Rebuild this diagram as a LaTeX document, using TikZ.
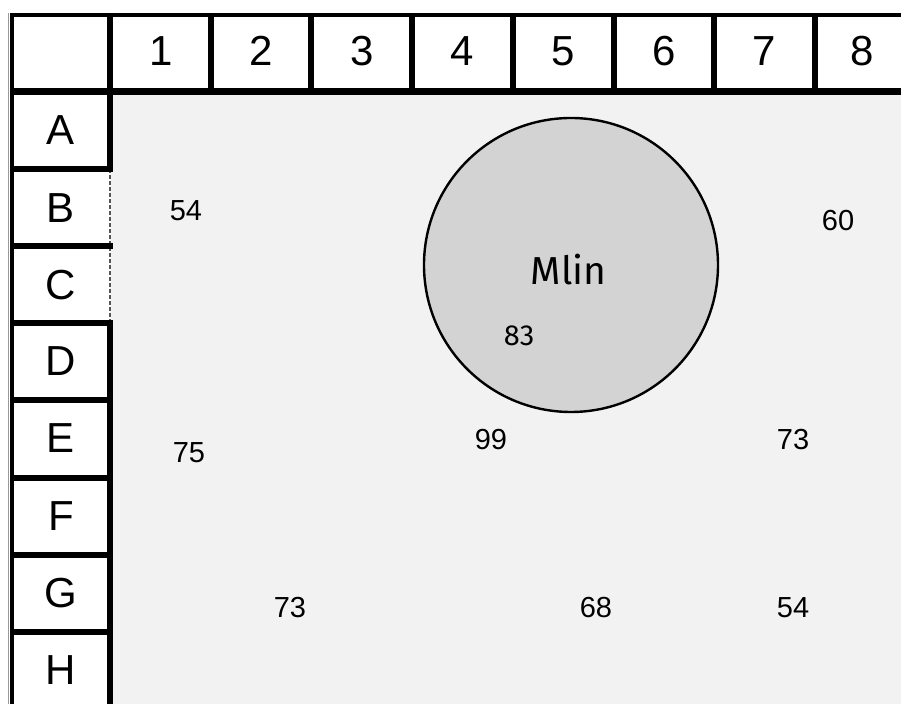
\documentclass[tikz,border=0pt]{standalone}
\usepackage{fontspec}
\setmainfont{Liberation Sans}
\newfontfamily\fira{Fira Sans}
\definecolor{bggray}{HTML}{F2F2F2}
\definecolor{circgray}{HTML}{D3D3D3}
\definecolor{edgegray}{HTML}{9A9A9A}
\definecolor{dashgray}{HTML}{555555}
\begin{document}
\begin{tikzpicture}[x=0.5pt,y=-0.5pt,
  lbl/.style={font=\fontsize{21}{21}\selectfont, inner sep=0pt},
  num/.style={font=\fontsize{14.5}{14.5}\selectfont, inner sep=0pt},
  heavy/.style={line width=3pt, black},
  ballshape/.style={circle, draw=black, fill=circgray, line width=1.2pt, minimum size=147pt, inner sep=0pt}]
\useasboundingbox (0,0) rectangle (901,704);
\fill[white] (0,0) rectangle (901,704);
\fill[bggray] (111,92) rectangle (901,704);
% thin outer gray line at left
\draw[edgegray, line width=0.5pt] (8.5,13) -- (8.5,704);
% top border
\draw[line width=2pt] (10,15) -- (901,15);
% left border
\draw[line width=2pt] (12,13) -- (12,704);
% header column separators
\foreach \x in {210.7,311.4,412.1,512.9,613.6,714.3,815} {
  \draw[heavy] (\x,15) -- (\x,91.5);
}
% right edge of label column
\draw[heavy] (110,13) -- (110,168.7);
\draw[heavy] (110,323.1) -- (110,704);
\draw[dashgray, line width=0.6pt, dash pattern=on 2pt off 1pt] (110,168.7) -- (110,323.1);
% header bottom
\draw[line width=3.5pt] (10,91.5) -- (901,91.5);
% row separators in label column
\foreach \y in {168.7,245.9,323.1,400.4,477.6,554.8,632} {
  \draw[heavy] (10,\y) -- (113,\y);
}
% column labels
\foreach \i/\x in {1/161,2/261.5,3/362,4/462.5,5/563,6/664,7/764.5,8/862} {
  \node[lbl] (col\i) at (\x,51) {\i};
}
% row labels
\foreach \r/\y in {A/130,B/208,C/285,D/361,E/438,F/516,G/593,H/670} {
  \node[lbl] (row\r) at (61,\y) {\r};
}
% circle
\node[ballshape] (ball) at (571,265) {};
\node[font=\fira\fontsize{19.5}{19.5}\selectfont, inner sep=0pt] (mlin) at (568.5,270) {Mlin};
\node[num, font=\fira\fontsize{14.5}{14.5}\selectfont] (n83) at (519,336) {83};
% numbers
\node[num] (n54a) at (186,211) {54};
\node[num] (n60) at (838,221) {60};
\node[num] (n75) at (189,453) {75};
\node[num] (n99) at (491,440) {99};
\node[num] (n73a) at (793,440) {73};
\node[num] (n73b) at (290,608) {73};
\node[num] (n68) at (596,608) {68};
\node[num] (n54b) at (793,608) {54};
\end{tikzpicture}
\end{document}
